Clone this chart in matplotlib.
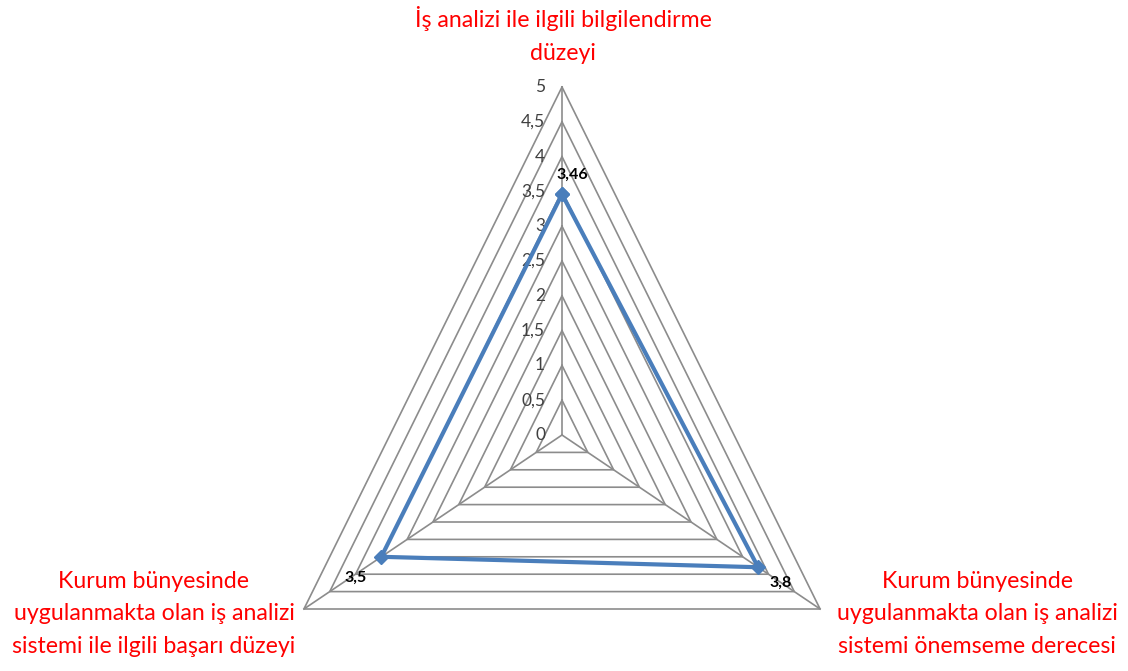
import numpy as np
import matplotlib.pyplot as plt

categories = [
    "İş analizi ile ilgili bilgilendirme\ndüzeyi",
    "Kurum bünyesinde\nuygulanmakta olan iş analizi\nsistemi önemseme derecesi",
    "Kurum bünyesinde\nuygulanmakta olan iş analizi\nsistemi ile ilgili başarı düzeyi",
]
values = [3.46, 3.8, 3.5]
value_labels = ["3,46", "3,8", "3,5"]
levels = [0, 0.5, 1, 1.5, 2, 2.5, 3, 3.5, 4, 4.5, 5]
level_labels = ["0", "0,5", "1", "1,5", "2", "2,5", "3", "3,5", "4", "4,5", "5"]

plt.rcParams["font.family"] = ["Lato", "DejaVu Sans"]

W, H = 1128, 671
fig = plt.figure(figsize=(W / 100, H / 100), dpi=100)

# polar axes centred on the chart centre, stretched a bit vertically
cx, cy = 562, 435
rx, ry = 298, 348
ax = fig.add_axes([(cx - rx) / W, (H - cy - ry) / H, 2 * rx / W, 2 * ry / H],
                  projection="polar")
ax.set_aspect("auto")
ax.set_theta_offset(np.pi / 2)
ax.set_theta_direction(-1)
ax.set_ylim(0, 5)
ax.set_facecolor("none")
ax.spines["polar"].set_visible(False)
ax.grid(False)
ax.set_xticks([])
ax.set_yticks([])

theta = np.deg2rad([0, 120, 240])
theta_closed = np.append(theta, theta[0])

grid_col = "#8c8c8c"
for lv in levels[1:]:
    ax.plot(theta_closed, [lv] * 4, color=grid_col, lw=1.2, clip_on=False, zorder=1)
for t in theta:
    ax.plot([t, t], [0, 5], color=grid_col, lw=1.2, clip_on=False, zorder=1)

for lv, lab in zip(levels, level_labels):
    ax.annotate(lab, (0, lv), xytext=(-17, 0), textcoords="offset pixels",
                ha="right", va="center", fontsize=12.5, color="#404040")

vals_closed = values + values[:1]
ax.plot(theta_closed, vals_closed, color="#4a7ebb", lw=3, marker="D",
        markersize=7.5, clip_on=False, zorder=3)

offsets = [(10, 19), (22, -16), (-26, -21)]
for t, v, lab, off in zip(theta, values, value_labels, offsets):
    ax.annotate(lab, (t, v), xytext=off, textcoords="offset pixels",
                ha="center", va="center", fontsize=11.5, fontweight="bold",
                color="black")

red = "#ff0000"
fig.text(563 / W, 1 - 35 / H, categories[0], ha="center", va="center",
         fontsize=16.7, color=red, linespacing=1.65)
fig.text(977 / W, 1 - 614 / H, categories[1], ha="center", va="center",
         fontsize=16.7, color=red, linespacing=1.65)
fig.text(154 / W, 1 - 614 / H, categories[2], ha="center", va="center",
         fontsize=16.7, color=red, linespacing=1.65)

fig.savefig("out.png", dpi=100)
